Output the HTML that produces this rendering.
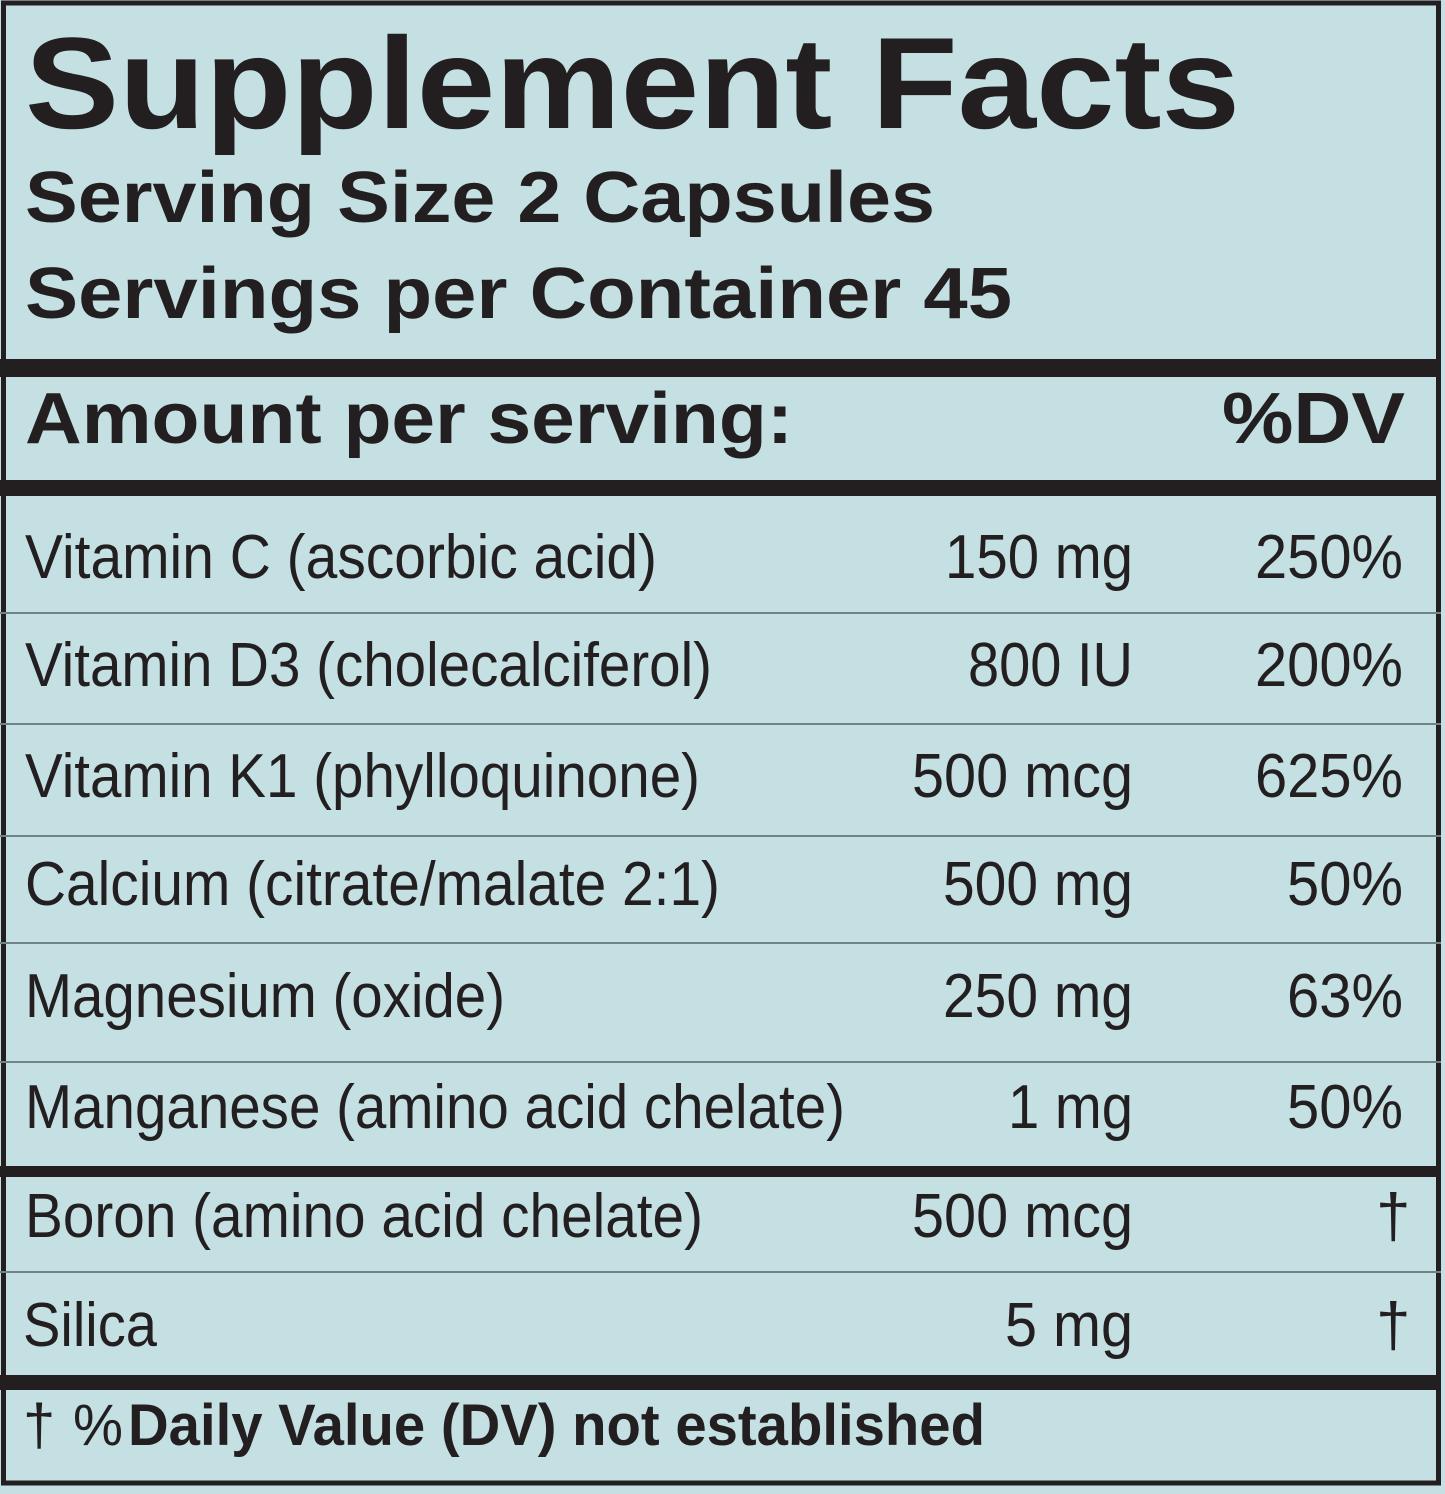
<!DOCTYPE html>
<html><head><meta charset="utf-8"><style>
html,body{margin:0;padding:0;background:#c4e0e3;}
svg{display:block}
text{font-family:"Liberation Sans",Arial,sans-serif;fill:#231f20}
.b{font-weight:bold}
.r{font-size:62px}
</style></head><body>
<svg width="1445" height="1494" viewBox="0 0 1445 1494" xmlns="http://www.w3.org/2000/svg">
<rect x="0" y="0" width="1445" height="1494" fill="#c4e0e3"/>
<rect x="3.5" y="3" width="1435" height="1480" fill="none" stroke="#231f20" stroke-width="5"/>
<rect x="0" y="359" width="1441" height="18" fill="#231f20"/>
<rect x="0" y="480" width="1441" height="16" fill="#231f20"/>
<rect x="0" y="1166" width="1441" height="11" fill="#231f20"/>
<rect x="0" y="1375" width="1441" height="15" fill="#231f20"/>
<g fill="#6f8487">
<rect x="0" y="612" width="1441" height="2"/>
<rect x="0" y="723" width="1441" height="2"/>
<rect x="0" y="835" width="1441" height="2"/>
<rect x="0" y="942" width="1441" height="2"/>
<rect x="0" y="1061" width="1441" height="2"/>
<rect x="0" y="1271" width="1441" height="2"/>
</g>
<text class="b" x="25" y="128" font-size="130" textLength="1215" lengthAdjust="spacingAndGlyphs">Supplement Facts</text>
<text class="b" x="25" y="222" font-size="72" textLength="910" lengthAdjust="spacingAndGlyphs">Serving Size 2 Capsules</text>
<text class="b" x="25" y="318" font-size="72" textLength="987" lengthAdjust="spacingAndGlyphs">Servings per Container 45</text>
<text class="b" x="25" y="443" font-size="72" textLength="768" lengthAdjust="spacingAndGlyphs">Amount per serving:</text>
<text class="b" x="1222" y="443" font-size="72" textLength="183" lengthAdjust="spacingAndGlyphs">%DV</text>

<text class="r" x="25" y="578" textLength="632" lengthAdjust="spacingAndGlyphs">Vitamin C (ascorbic acid)</text>
<text class="r" x="945" y="578" textLength="188" lengthAdjust="spacingAndGlyphs">150 mg</text>
<text class="r" x="1255" y="578" textLength="148" lengthAdjust="spacingAndGlyphs">250%</text>

<text class="r" x="25" y="686" textLength="687" lengthAdjust="spacingAndGlyphs">Vitamin D3 (cholecalciferol)</text>
<text class="r" x="968" y="686" textLength="165" lengthAdjust="spacingAndGlyphs">800 IU</text>
<text class="r" x="1255" y="686" textLength="148" lengthAdjust="spacingAndGlyphs">200%</text>

<text class="r" x="25" y="797" textLength="675" lengthAdjust="spacingAndGlyphs">Vitamin K1 (phylloquinone)</text>
<text class="r" x="912" y="797" textLength="221" lengthAdjust="spacingAndGlyphs">500 mcg</text>
<text class="r" x="1255" y="797" textLength="148" lengthAdjust="spacingAndGlyphs">625%</text>

<text class="r" x="25" y="905" textLength="695" lengthAdjust="spacingAndGlyphs">Calcium (citrate/malate 2:1)</text>
<text class="r" x="943" y="905" textLength="190" lengthAdjust="spacingAndGlyphs">500 mg</text>
<text class="r" x="1287" y="905" textLength="116" lengthAdjust="spacingAndGlyphs">50%</text>

<text class="r" x="25" y="1017" textLength="480" lengthAdjust="spacingAndGlyphs">Magnesium (oxide)</text>
<text class="r" x="943" y="1017" textLength="190" lengthAdjust="spacingAndGlyphs">250 mg</text>
<text class="r" x="1287" y="1017" textLength="116" lengthAdjust="spacingAndGlyphs">63%</text>

<text class="r" x="25" y="1128" textLength="820" lengthAdjust="spacingAndGlyphs">Manganese (amino acid chelate)</text>
<text class="r" x="1008" y="1128" textLength="125" lengthAdjust="spacingAndGlyphs">1 mg</text>
<text class="r" x="1287" y="1128" textLength="116" lengthAdjust="spacingAndGlyphs">50%</text>

<text class="r" x="25" y="1237" textLength="678" lengthAdjust="spacingAndGlyphs">Boron (amino acid chelate)</text>
<text class="r" x="912" y="1237" textLength="221" lengthAdjust="spacingAndGlyphs">500 mcg</text>
<text class="r" x="1376" y="1237">†</text>

<text class="r" x="23" y="1346" textLength="134" lengthAdjust="spacingAndGlyphs">Silica</text>
<text class="r" x="1005" y="1346" textLength="128" lengthAdjust="spacingAndGlyphs">5 mg</text>
<text class="r" x="1376" y="1346">†</text>

<text x="23" y="1445" font-size="58">†</text>
<text x="73" y="1445" font-size="58" textLength="50" lengthAdjust="spacingAndGlyphs">%</text>
<text class="b" x="128" y="1445" font-size="58" textLength="857" lengthAdjust="spacingAndGlyphs">Daily Value (DV) not established</text>
</svg>
</body></html>
